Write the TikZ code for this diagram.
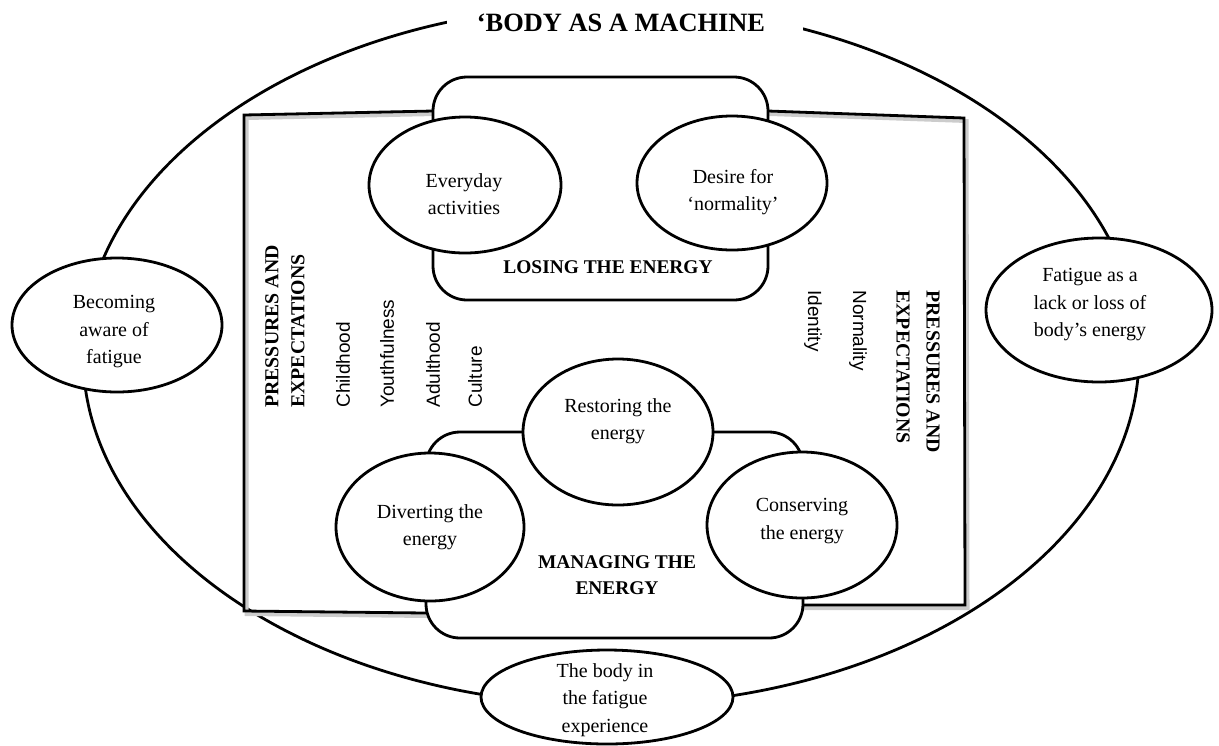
\documentclass[tikz,border=0pt]{standalone}
\usepackage{fontspec}
\setmainfont{Liberation Serif}
\newfontfamily\arialf{Liberation Sans}
\usetikzlibrary{shapes.geometric}
\begin{document}
\begin{tikzpicture}[x=0.5pt,y=-0.5pt,
  lw/.style={line width=1.4pt},
  bub/.style={ellipse, draw, lw, fill=white, inner sep=0pt},
  txt/.style={align=center, font=\fontsize{10pt}{13.75pt}\selectfont, inner sep=0pt},
  btxt/.style={align=center, font=\fontsize{9.7pt}{13pt}\selectfont\bfseries, inner sep=0pt},
  rbox/.style={rectangle, draw, lw, fill=white, rounded corners=17pt, inner sep=0pt},
  side/.style={font=\fontsize{9.5pt}{14pt}\selectfont\arialf, inner sep=0pt},
  sideboldL/.style={align=left, font=\fontsize{9.9pt}{13pt}\selectfont\bfseries, inner sep=0pt},
  sideboldR/.style={align=left, font=\fontsize{9.9pt}{15pt}\selectfont\bfseries, inner sep=0pt}]
\useasboundingbox (0,0) rectangle (1219,745);
% outer ellipse
\draw[lw] (611,355) ellipse [x radius=264pt, y radius=175pt];
\fill[white] (447,0) rectangle (803,42);
\node[font=\fontsize{13.2pt}{16pt}\selectfont\bfseries, inner sep=0pt] (title) at (621,23) {‘BODY AS A MACHINE};
% frame with shadow
\draw[gray!40, line width=2pt, shift={(2.5,3)}] (244,115) -- (433,111) -- (768,111) -- (964,118) -- (965,605) -- (803,605) -- (426,613) -- (244,611) -- cycle;
\draw[lw] (244,115) -- (433,111) -- (768,111) -- (964,118) -- (965,605) -- (803,605) -- (426,613) -- (244,611) -- cycle;
% category boxes
\node[rbox, minimum width=167.5pt, minimum height=111.5pt] (losing) at (600.5,188.5) {};
\node[rbox, minimum width=188.5pt, minimum height=103pt] (managing) at (614.5,535) {};
% bubbles
\node[bub, minimum width=96pt, minimum height=68pt] (every) at (465,185) {};
\node[bub, minimum width=95pt, minimum height=67pt] (desire) at (732,183) {};
\node[bub, minimum width=95pt, minimum height=73pt] (rest) at (618,432) {};
\node[bub, minimum width=94pt, minimum height=74pt] (divert) at (430,527) {};
\node[bub, minimum width=95pt, minimum height=73pt] (conserve) at (802,525) {};
\node[bub, minimum width=105pt, minimum height=67pt] (aware) at (117,325) {};
\node[bub, minimum width=113pt, minimum height=72pt] (lack) at (1099,310) {};
\node[bub, minimum width=126pt, minimum height=47pt] (bodyin) at (607,697) {};
% texts
\node[txt] (everyT) at (464,194) {Everyday\\activities};
\node[txt] (desireT) at (733,192) {Desire for\\‘normality’};
\node[txt] (restT) at (618,421) {Restoring the\\energy};
\node[txt] (divertT) at (430,527) {Diverting the\\energy};
\node[txt] (conserveT) at (802,521) {Conserving\\the energy};
\node[txt] (awareT) at (114,332) {Becoming\\aware of\\fatigue};
\node[txt] (lackT) at (1090,305) {Fatigue as a\\lack or loss of\\body’s energy};
\node[txt] (bodyinT) at (605,700) {The body in\\the fatigue\\experience};
\node[btxt] (losingT) at (608,267) {LOSING THE ENERGY};
\node[btxt] (managingT) at (617,575) {MANAGING THE\\ENERGY};
% side labels left
\node[sideboldL, rotate=90, anchor=west] (peL) at (285,408) {PRESSURES AND\\EXPECTATIONS};
\node[side, rotate=90, anchor=west] (child) at (343,408) {Childhood};
\node[side, rotate=90, anchor=west] (youth) at (387,408) {Youthfulness};
\node[side, rotate=90, anchor=west] (adult) at (433,408) {Adulthood};
\node[side, rotate=90, anchor=west] (cult) at (475,408) {Culture};
% side labels right
\node[sideboldR, rotate=-90, anchor=west] (peR) at (918,290) {PRESSURES AND\\EXPECTATIONS};
\node[side, rotate=-90, anchor=west] (norm) at (858,290) {Normality};
\node[side, rotate=-90, anchor=west] (ident) at (813,290) {Identity};
\end{tikzpicture}
\end{document}
